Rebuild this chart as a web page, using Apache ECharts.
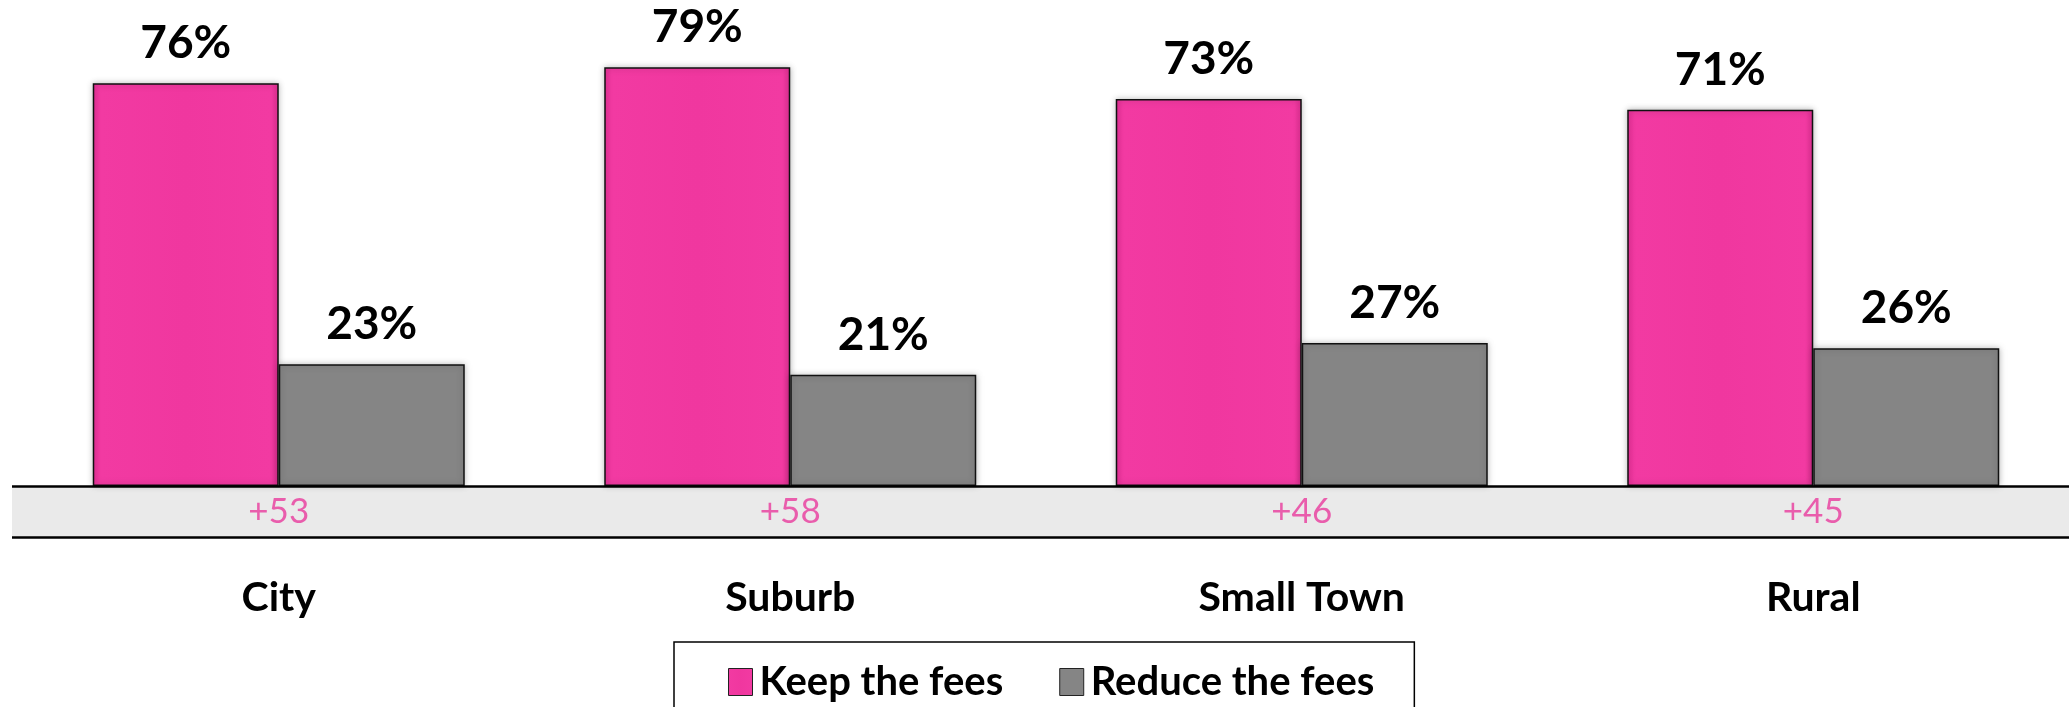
<!DOCTYPE html>
<html>
<head>
<meta charset="utf-8">
<script src="https://cdn.jsdelivr.net/npm/echarts@6/dist/echarts.min.js"></script>
<style>
html,body{margin:0;padding:0;background:#fff;}
#chart{width:2069px;height:707px;}
</style>
</head>
<body>
<div id="chart"></div>
<script>
const categories = ['City', 'Suburb', 'Small Town', 'Rural'];
const keepFees = [76, 79, 73, 71];
const reduceFees = [23, 21, 27, 26];
const netLabels = ['+53', '+58', '+46', '+45'];
const seriesNames = ['Keep the fees', 'Reduce the fees'];

const Y_MIN = -9.6, Y_MAX = 90;
const GREY = '#858585';
const FONT = 'Lato, "Open Sans", sans-serif';

const chart = echarts.init(document.getElementById('chart'), null, {renderer: 'canvas'});

const barLabel = {
  show: true, position: 'top', distance: 17,
  formatter: '{c}%', color: '#000', fontFamily: FONT, fontWeight: 'bold', fontSize: 46
};

chart.setOption({
  animation: false,
  backgroundColor: '#fff',
  grid: [
    {left: 23, right: 0, top: 9, bottom: 170, containLabel: false},
    {left: 12, right: 0, top: 9, bottom: 170, containLabel: false}
  ],
  legend: {
    data: seriesNames,
    left: 674, top: 642,
    padding: [20, 40, 40, 54],
    icon: 'rect',
    itemWidth: 24, itemHeight: 27, itemGap: 56,
    borderColor: '#000', borderWidth: 1.5,
    textStyle: {fontFamily: FONT, fontWeight: 'bold', fontSize: 40, color: '#000', padding: [0, 0, 0, 2]},
    itemStyle: {borderColor: '#222', borderWidth: 1}
  },
  xAxis: [
    {
      type: 'category', gridIndex: 0, data: categories,
      position: 'bottom',
      axisLine: {show: false, onZero: false}, axisTick: {show: false},
      axisLabel: {margin: 40, color: '#000', fontFamily: FONT, fontWeight: 'bold', fontSize: 41}
    },
    {type: 'value', gridIndex: 1, min: 0, max: 1, show: false}
  ],
  yAxis: [
    {type: 'value', gridIndex: 0, min: Y_MIN, max: Y_MAX, show: false, splitLine: {show: false}},
    {type: 'value', gridIndex: 1, min: Y_MIN, max: Y_MAX, show: false, splitLine: {show: false}}
  ],
  series: [
    {
      type: 'line', xAxisIndex: 1, yAxisIndex: 1, data: [], z: 1, silent: true,
      markArea: {
        silent: true,
        itemStyle: {color: '#eaeaea'},
        data: [[{yAxis: Y_MIN}, {yAxis: 0}]]
      },
      markLine: {
        silent: true, symbol: 'none', label: {show: false},
        lineStyle: {color: '#000', width: 2.5, type: 'solid'},
        data: [{yAxis: 0}, {yAxis: Y_MIN}]
      }
    },
    {
      name: seriesNames[0], type: 'bar', data: keepFees, z: 3,
      barWidth: 186, barGap: '0%',
      itemStyle: {
        color: {type: 'linear', x: 0, y: 0, x2: 1, y2: 0, colorStops: [
          {offset: 0, color: '#e62f97'}, {offset: 0.04, color: '#f23aa2'},
          {offset: 0.5, color: '#f0379f'}, {offset: 0.96, color: '#f23aa2'}, {offset: 1, color: '#e02e92'}]},
        borderColor: '#111', borderWidth: 1.5,
        shadowColor: 'rgba(0,0,0,0.25)', shadowBlur: 6
      },
      label: barLabel
    },
    {
      name: seriesNames[1], type: 'bar', data: reduceFees, z: 3,
      barWidth: 186,
      itemStyle: {
        color: GREY, borderColor: '#111', borderWidth: 1.5,
        shadowColor: 'rgba(0,0,0,0.25)', shadowBlur: 6
      },
      label: barLabel
    },
    {
      type: 'scatter', data: netLabels.map(() => Y_MIN / 2), z: 4,
      symbolSize: 1, itemStyle: {color: 'rgba(0,0,0,0)'}, silent: true,
      label: {
        show: true, position: 'inside',
        formatter: p => netLabels[p.dataIndex],
        color: '#e8399c', fontFamily: FONT, fontSize: 35
      }
    }
  ]
});
</script>
</body>
</html>
